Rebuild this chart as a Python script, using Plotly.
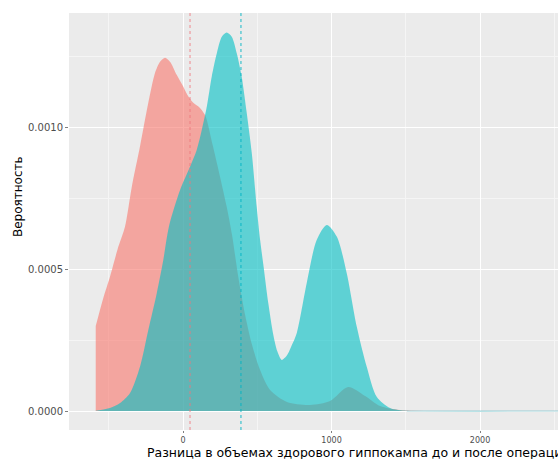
import plotly.graph_objects as go

# Density curve for group 1 (red)
red_x = [-588, -537, -492, -436, -391, -345, -290, -234, -189, -155, -121, -88, -42, 2, 36, 69, 114, 148,
         160, 202, 249, 294, 330, 370, 418, 465, 519, 586, 700, 855, 990, 1111, 1226, 1327, 1461, 1663]
red_y = [0.000299, 0.000398, 0.000473, 0.000578, 0.000649, 0.000790, 0.000931, 0.001085, 0.001190, 0.001230,
         0.001244, 0.001230, 0.001183, 0.001142, 0.001107, 0.001085, 0.001067, 0.001042,
         0.001025, 0.000931, 0.000825, 0.000719, 0.000620, 0.000479, 0.000338, 0.000232, 0.000144, 0.0000739,
         0.0000317, 0.0000211, 0.0000352, 0.0000845, 0.0000528, 0.0000176, 0.0000035, 0.0]

# Density curve for group 2 (teal)
teal_x = [-588, -492, -424, -357, -290, -234, -177, -133, -95, -20, 47, 92, 126, 160, 193, 227, 261, 294,
          328, 362, 395, 429, 463, 496, 519, 541, 574, 608, 635, 665, 700, 735, 766, 833, 900, 968, 1035, 1102,
          1170, 1237, 1304, 1394, 1506, 1589, 3000]
teal_y = [0.000001, 0.0000106, 0.0000282, 0.0000634, 0.000156, 0.000285, 0.000415, 0.000532, 0.000650,
          0.000778, 0.000860, 0.000919, 0.000989, 0.001072, 0.001177, 0.001259, 0.001318, 0.001333,
          0.001318, 0.001259, 0.001177, 0.001049, 0.000908, 0.000719, 0.000602, 0.000514, 0.000380, 0.000268,
          0.000210, 0.000180, 0.000196, 0.000235, 0.000275, 0.000451, 0.000602, 0.000655, 0.000614, 0.000486,
          0.000297, 0.000156, 0.0000504, 0.0000106, 0.000001, 0.0, 0.0]

# Group means (dashed vertical lines)
mean_values = [47, 390]
mean_colors = ["rgba(238,120,125,0.85)", "rgba(0,180,196,0.9)"]

x_tick_vals = [0, 1000, 2000]
x_tick_text = ["0", "1000", "2000"]
y_tick_vals = [0.0, 0.0005, 0.0010]
y_tick_text = ["0.0000", "0.0005", "0.0010"]

x_title = "Разница в объемах здорового гиппокампа до и после операции"
y_title = "Вероятность"

FONT = "DejaVu Sans, Verdana, sans-serif"

fig = go.Figure()
fig.add_trace(go.Scatter(x=red_x, y=red_y, mode="lines", line=dict(width=0, shape="spline", smoothing=0.8),
                         fill="tozeroy", fillcolor="rgba(248,118,109,0.6)", showlegend=False, hoverinfo="skip"))
fig.add_trace(go.Scatter(x=teal_x, y=teal_y, mode="lines", line=dict(width=0, shape="spline", smoothing=0.8),
                         fill="tozeroy", fillcolor="rgba(0,191,196,0.6)", showlegend=False, hoverinfo="skip"))
# thin baseline continuation of density outline
fig.add_trace(go.Scatter(x=[teal_x[-3], teal_x[-1]], y=[0, 0], mode="lines",
                         line=dict(width=1, color="rgba(120,190,200,0.7)"), showlegend=False, hoverinfo="skip"))

for v, c in zip(mean_values, mean_colors):
    fig.add_shape(type="line", x0=v, x1=v, xref="x", y0=0, y1=1, yref="paper",
                  line=dict(color=c, width=1, dash="3px,3px"))

fig.update_layout(
    width=558, height=459,
    margin=dict(l=69, r=0, t=13, b=29, autoexpand=False),
    paper_bgcolor="white", plot_bgcolor="#EBEBEB",
    font=dict(family=FONT, size=10, color="#4D4D4D"),
    xaxis=dict(range=[-768, 2525], tickvals=x_tick_vals, ticktext=x_tick_text, automargin=False,
               showgrid=True, gridcolor="white", gridwidth=1.2, zeroline=False,
               ticks="outside", ticklen=2, tickcolor="#7F7F7F",
               tickfont=dict(family=FONT, size=8, color="#4D4D4D"),
               minor=dict(tickvals=[-500, 500, 1500, 2500], showgrid=True, gridcolor="#F5F5F5", gridwidth=0.7,
                          ticks=""),
               showline=False),
    yaxis=dict(range=[-0.0000669, 0.0014014], tickvals=y_tick_vals, ticktext=y_tick_text, automargin=False,
               showgrid=True, gridcolor="white", gridwidth=1.2, zeroline=False,
               ticks="outside", ticklen=3, tickcolor="#7F7F7F",
               tickfont=dict(family=FONT, size=10, color="#4D4D4D"),
               minor=dict(tickvals=[0.00025, 0.00075, 0.00125], showgrid=True, gridcolor="#F5F5F5",
                          gridwidth=0.7, ticks=""),
               showline=False),
    annotations=[
        dict(text=x_title, xref="paper", yref="paper", x=(145 - 69) / 489, y=-0.053, xanchor="left",
             yanchor="middle", showarrow=False, font=dict(family=FONT, size=12.5, color="black")),
        dict(text=y_title, xref="paper", yref="paper", x=-0.104, y=0.559, xanchor="center", yanchor="middle",
             textangle=-90, showarrow=False, font=dict(family=FONT, size=12, color="black")),
    ],
)

fig.write_html("out.html", config={"displayModeBar": False},
               post_script="document.body.style.margin='0';document.body.style.overflow='hidden';")
